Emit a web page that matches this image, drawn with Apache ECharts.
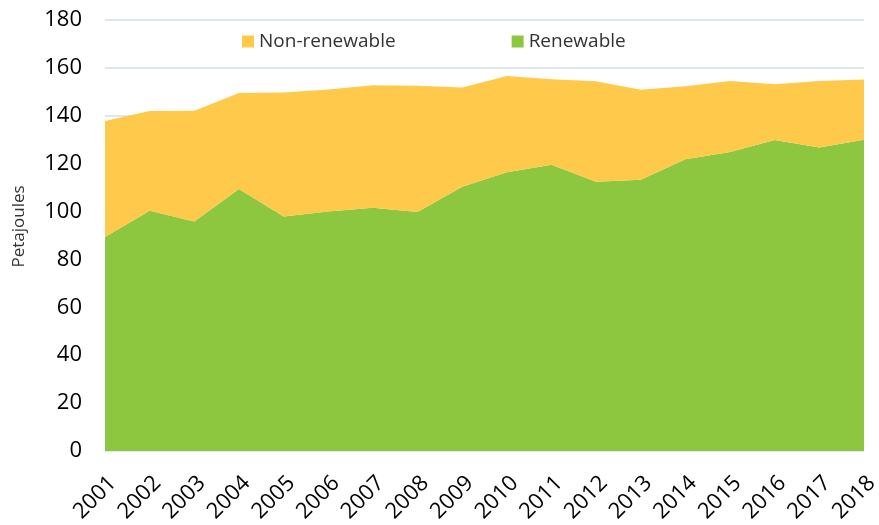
<!DOCTYPE html>
<html>
<head>
<meta charset="utf-8">
<script src="https://cdn.jsdelivr.net/npm/echarts@6/dist/echarts.min.js"></script>
<style>
  html, body { margin: 0; padding: 0; background: #fff; }
  #chart { width: 879px; height: 525px; }
</style>
</head>
<body>
<div id="chart"></div>
<script>
// years on the x axis
var years = ['2001', '2002', '2003', '2004', '2005', '2006', '2007', '2008', '2009',
  '2010', '2011', '2012', '2013', '2014', '2015', '2016', '2017', '2018'];
// petajoules
var renewable = [89.4, 100.3, 95.8, 109.4, 97.9, 100, 101.6, 99.8, 110.4,
  116.4, 119.5, 112.4, 113.3, 121.8, 124.9, 129.9, 126.7, 130];
var nonRenewable = [48.4, 41.7, 46.3, 40.1, 51.8, 51, 51.1, 52.7, 41.4,
  40.2, 35.8, 42, 37.6, 30.5, 29.6, 23.3, 27.8, 25.1];

var colors = { renewable: '#8dc63f', nonRenewable: '#ffc94b' };
var font = 'Open Sans';

var chart = echarts.init(document.getElementById('chart'));
var option = {
  animation: false,
  textStyle: { fontFamily: font },
  legend: {
    data: ['Non-renewable', 'Renewable'],
    left: 237,
    top: 27,
    itemWidth: 12,
    itemHeight: 12,
    itemGap: 116,
    icon: 'rect',
    textStyle: { fontSize: 19, color: '#333', fontFamily: font }
  },
  grid: { left: 105, right: 15, top: 20, bottom: 74, outerBoundsMode: 'none' },
  xAxis: {
    type: 'category',
    data: years,
    boundaryGap: false,
    axisLine: { show: false },
    axisTick: { show: false },
    axisLabel: {
      rotate: 45, fontSize: 22, color: '#000', margin: 21, interval: 0,
      verticalAlign: 'top'
    }
  },
  yAxis: {
    type: 'value',
    min: 0,
    max: 180,
    interval: 20,
    name: 'Petajoules',
    nameLocation: 'middle',
    nameGap: 77,
    nameTextStyle: { fontSize: 17, color: '#333', padding: [0, 0, 0, 18] },
    axisLine: { show: false },
    axisTick: { show: false },
    axisLabel: { fontSize: 22, color: '#000', margin: 23 },
    splitLine: { lineStyle: { color: '#dde6f2', width: 2 } }
  },
  series: [
    {
      name: 'Renewable',
      type: 'line',
      stack: 'total',
      data: renewable,
      symbol: 'none',
      lineStyle: { width: 0 },
      itemStyle: { color: colors.renewable },
      areaStyle: { color: colors.renewable, opacity: 1 }
    },
    {
      name: 'Non-renewable',
      type: 'line',
      stack: 'total',
      data: nonRenewable,
      symbol: 'none',
      lineStyle: { width: 0 },
      itemStyle: { color: colors.nonRenewable },
      areaStyle: { color: colors.nonRenewable, opacity: 1 }
    }
  ]
};
chart.setOption(option);
</script>
</body>
</html>
